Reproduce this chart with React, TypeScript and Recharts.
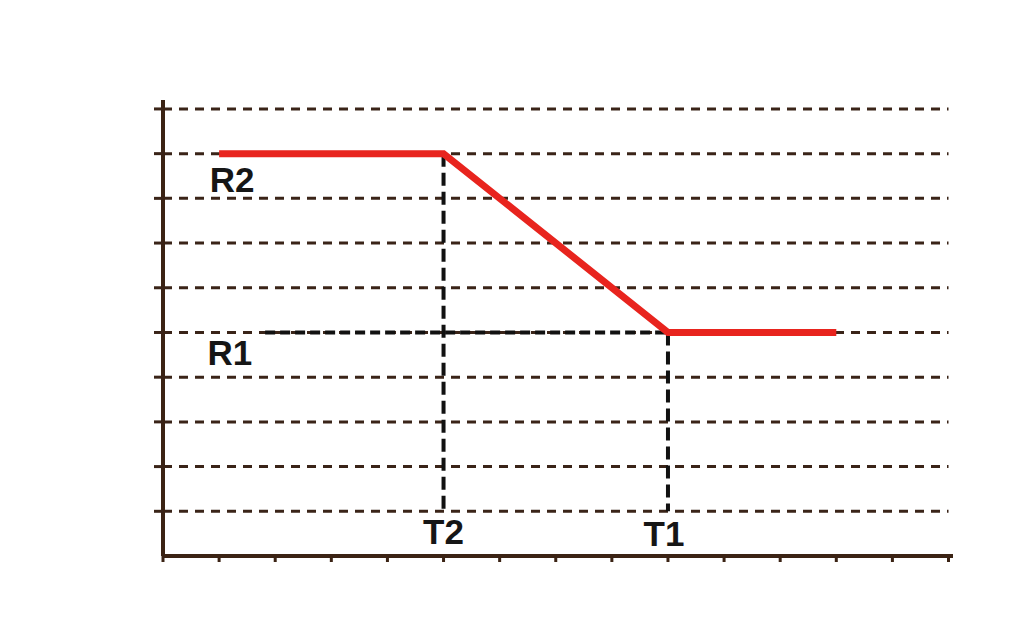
import React from 'react';
import { LineChart, Line, XAxis, YAxis, ReferenceLine, ReferenceDot } from 'recharts';

const xValues = [1, 5, 9, 12];
const yValues = [9, 9, 5, 5];
const xTicks = [0, 1, 2, 3, 4, 5, 6, 7, 8, 9, 10, 11, 12, 13, 14];
const yTicks = [1, 2, 3, 4, 5, 6, 7, 8, 9, 10];
const labels = [
  { text: 'R2', x: 1.23, y: 8.14 },
  { text: 'R1', x: 1.19, y: 4.27 },
  { text: 'T2', x: 5.0, y: 0.27 },
  { text: 'T1', x: 8.93, y: 0.22 },
];
const r1Start = 1.82;
const t2 = 5;
const t1 = 9;
const r2 = 9;
const r1 = 5;
const gridBottom = 1;
const gridEnd = 14;

const data = xValues.map((x, i) => ({ x, y: yValues[i] }));

const AXIS = '#3b2314';
const GRID = '#3a2418';

export default function App() {
  return (
    <div style={{ position: 'absolute', left: 0, top: 0, width: 1024, height: 642, background: '#fff' }}>
      <LineChart width={1024} height={642} data={data} margin={{ top: 100, right: 71, bottom: 56, left: 153 }}>
        <XAxis
          type="number"
          dataKey="x"
          domain={[0, 14.08]}
          ticks={xTicks}
          allowDataOverflow
          height={30}
          stroke={AXIS}
          axisLine={{ stroke: AXIS, strokeWidth: 4 }}
          tickLine={{ stroke: AXIS, strokeWidth: 3 }}
          tickSize={6}
          tickFormatter={() => ''}
        />
        <YAxis
          type="number"
          domain={[0, 10.2]}
          ticks={yTicks}
          allowDataOverflow
          width={10}
          axisLine={{ stroke: AXIS, strokeWidth: 4 }}
          tickLine={{ stroke: GRID, strokeWidth: 3 }}
          tickSize={9}
          tickFormatter={() => ''}
        />
        {yTicks.map((v) => (
          <ReferenceLine
            key={v}
            segment={[{ x: 0, y: v }, { x: gridEnd, y: v }]}
            stroke={GRID}
            strokeWidth={3}
            strokeDasharray="9 7"
          />
        ))}
        <ReferenceLine segment={[{ x: r1Start, y: r1 }, { x: t1, y: r1 }]} stroke="#111" strokeWidth={4} strokeDasharray="10 5" />
        <ReferenceLine segment={[{ x: t2, y: r2 }, { x: t2, y: gridBottom }]} stroke="#111" strokeWidth={4} strokeDasharray="13 6" />
        <ReferenceLine segment={[{ x: t1, y: r1 }, { x: t1, y: gridBottom }]} stroke="#111" strokeWidth={4} strokeDasharray="13 6" />
        <Line type="linear" dataKey="y" stroke="#e8241e" strokeWidth={7} dot={false} isAnimationActive={false} />
        {labels.map((l) => (
          <ReferenceDot
            key={l.text}
            x={l.x}
            y={l.y}
            r={0}
            shape={(p: any) => (
              <text
                x={p.cx}
                y={p.cy}
                textAnchor="middle"
                fontFamily="'Liberation Sans', Arial, sans-serif"
                fontWeight="bold"
                fontSize={35}
                fill="#161616"
              >
                {l.text}
              </text>
            )}
          />
        ))}
      </LineChart>
    </div>
  );
}
